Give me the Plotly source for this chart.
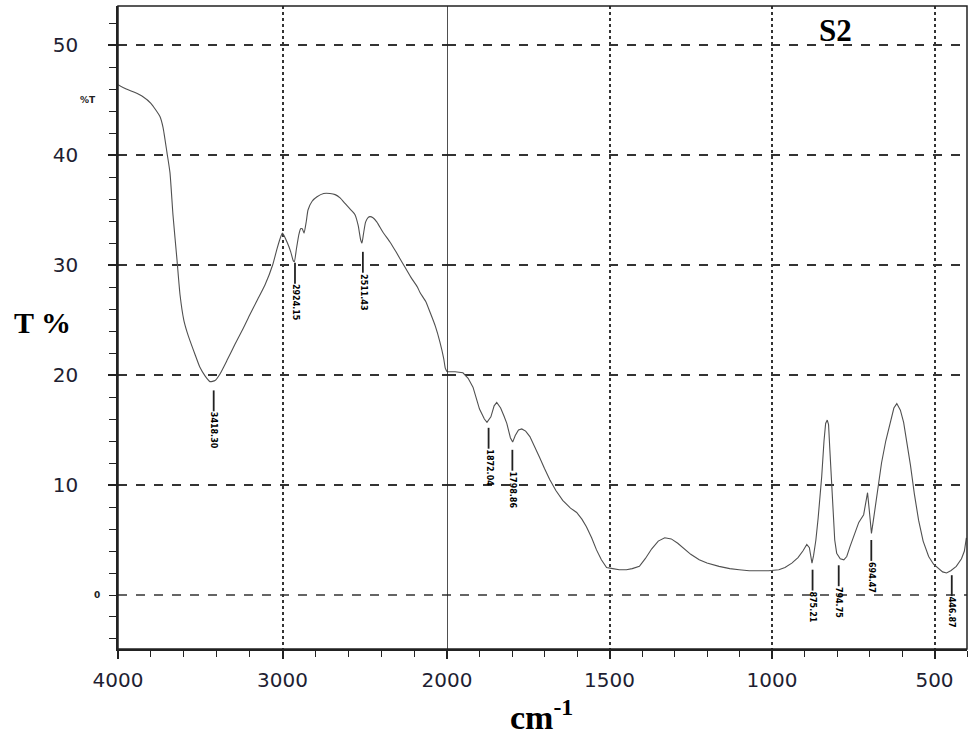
import plotly.graph_objects as go

# ---------------- data ----------------
wn_left = [4000, 3950, 3900, 3848, 3800, 3745, 3726, 3702, 3684, 3666, 3641, 3623, 3600, 3580,
           3562, 3530, 3502, 3470, 3441, 3410, 3380, 3335, 3289, 3240, 3198, 3150, 3106, 3060,
           3033, 3010, 3000, 2970, 2950, 2935, 2928, 2915, 2900, 2890, 2880, 2869, 2855, 2845,
           2820, 2790, 2750, 2711, 2680, 2650, 2620, 2590, 2560, 2540, 2525, 2517, 2508, 2495,
           2480, 2468, 2450, 2426, 2390, 2347, 2310, 2267, 2220, 2180, 2164, 2130, 2103, 2070,
           2043, 2020, 2010, 2000]
t_left = [46.4, 46.0, 45.7, 45.3, 44.7, 43.5, 42.5, 40.2, 38.4, 34.6, 30.4, 27.3, 25.0, 23.9,
          23.1, 21.8, 20.7, 19.9, 19.4, 19.5, 20.1, 21.4, 22.8, 24.2, 25.5, 26.9, 28.2, 30.0,
          31.5, 32.6, 32.9, 32.0, 31.2, 30.4, 30.3, 31.5, 32.8, 33.3, 33.3, 32.9, 34.0, 35.0,
          35.8, 36.2, 36.5, 36.5, 36.4, 36.1, 35.6, 35.1, 34.6, 33.6, 32.3, 32.0, 32.8, 33.9,
          34.3, 34.4, 34.3, 33.9, 33.0, 32.1, 31.2, 30.1, 28.9, 28.0, 27.5, 26.7, 25.7, 24.4,
          23.0, 21.5, 20.6, 20.3]

wn_right = [2000, 1975, 1951, 1935, 1920, 1900, 1885, 1877, 1865, 1855, 1847, 1835, 1825, 1816,
            1805, 1798, 1790, 1780, 1770, 1758, 1745, 1730, 1715, 1700, 1684, 1665, 1644, 1620,
            1601, 1585, 1571, 1555, 1540, 1525, 1509, 1490, 1470, 1448, 1430, 1408, 1390, 1370,
            1350, 1330, 1310, 1290, 1270, 1250, 1224, 1200, 1163, 1130, 1101, 1070, 1040, 1010,
            979, 960, 939, 920, 905, 893, 885, 880, 877, 872, 865, 858, 852, 847, 840, 835, 830,
            826, 822, 817, 812, 807, 801, 790, 779, 770, 760, 748, 733, 718, 712, 706, 700, 694,
            688, 681, 672, 663, 650, 635, 625, 616, 605, 595, 585, 574, 562, 549, 535, 518, 503,
            488, 475, 463, 450, 433, 417, 408, 402]
t_right = [20.3, 20.3, 20.2, 19.7, 18.9, 16.9, 16.0, 15.7, 16.2, 17.2, 17.5, 17.0, 16.3, 15.6,
           14.3, 13.9, 14.5, 15.0, 15.1, 14.9, 14.4, 13.5, 12.5, 11.5, 10.5, 9.5, 8.6, 7.9,
           7.5, 6.9, 6.2, 5.2, 4.1, 3.2, 2.5, 2.4, 2.3, 2.3, 2.4, 2.6, 3.3, 4.2,
           4.9, 5.2, 5.1, 4.7, 4.2, 3.7, 3.2, 2.9, 2.6, 2.4, 2.3, 2.2, 2.2, 2.2,
           2.3, 2.5, 2.9, 3.4, 4.0, 4.6, 4.3, 3.4, 2.9, 3.6, 5.0, 7.0, 9.0, 10.8, 14.0, 15.6, 15.9,
           15.5, 13.2, 10.0, 7.0, 5.0, 3.8, 3.3, 3.2, 3.5, 4.4, 5.3, 6.6, 7.3, 8.4, 9.3, 7.5, 5.6,
           6.8, 8.4, 10.3, 12.0, 14.0, 15.8, 17.0, 17.4, 16.8, 15.7, 14.0, 11.8, 9.2, 6.8, 4.9, 3.5, 2.8,
           2.4, 2.1, 2.0, 2.2, 2.6, 3.3, 4.0, 5.2]

peak_wn = [3418.30, 2924.15, 2511.43, 1872.04, 1798.86, 875.21, 794.75, 694.47, 446.87]
peak_labels = ["3418.30", "2924.15", "2511.43", "1872.04", "1798.86", "875.21", "794.75", "694.47", "446.87"]
peak_mark_top = [18.6, 30.2, 31.2, 15.2, 13.2, 2.3, 2.7, 5.0, 1.8]

y_ticks = [10, 20, 30, 40, 50]
x_left_ticks = [4000, 3000]
x_right_ticks = [2000, 1500, 1000, 500]

# ---------------- figure ----------------
split = 329 / 849
line_col = "#505050"
mark_len = 1.9  # length of the peak marker stems, in %T units
lab_size = 8


def label_len(s):
    # approximate rendered length (px) of a bold DejaVu Sans label
    return sum(3.0 if ch == "." else 0.696 * lab_size for ch in s)


fig = go.Figure()
fig.add_trace(go.Scatter(x=wn_left, y=t_left, xaxis="x", yaxis="y", mode="lines",
                         line=dict(color=line_col, width=1.1, shape="spline", smoothing=0.5),
                         showlegend=False, hoverinfo="skip"))
fig.add_trace(go.Scatter(x=wn_right, y=t_right, xaxis="x2", yaxis="y", mode="lines",
                         line=dict(color=line_col, width=1.1), showlegend=False, hoverinfo="skip"))

tickfont = dict(family="DejaVu Sans", size=20, color="#1e1e32")
grid_col = "#333333"

fig.update_layout(
    width=972, height=736,
    margin=dict(l=118, r=5, t=6, b=87, autoexpand=False),
    paper_bgcolor="white", plot_bgcolor="white",
    xaxis=dict(domain=[0, split], range=[4000, 2000], anchor="y", automargin=False,
               tickvals=x_left_ticks, ticks="outside", ticklen=8, tickwidth=1.5, tickcolor="#222",
               showgrid=True, gridcolor=grid_col, griddash="dot", gridwidth=1.5,
               showline=True, linecolor="#222", linewidth=1.5, zeroline=False,
               tickfont=tickfont, ticklabelstandoff=4,
               minor=dict(dtick=200, tick0=4000, ticks="outside", ticklen=6, tickcolor="#222",
                          tickwidth=1.3, showgrid=False)),
    xaxis2=dict(domain=[split, 1], range=[2000, 400], anchor="y", automargin=False,
                tickvals=x_right_ticks, ticks="outside", ticklen=8, tickwidth=1.5, tickcolor="#222",
                showgrid=True, gridcolor=grid_col, griddash="dot", gridwidth=1.5,
                showline=True, linecolor="#222", linewidth=1.5, zeroline=False,
                tickfont=tickfont, ticklabelstandoff=4,
                minor=dict(dtick=100, tick0=2000, ticks="outside", ticklen=6, tickcolor="#222",
                           tickwidth=1.3, showgrid=False)),
    yaxis=dict(range=[-4.91, 53.55], anchor="x", automargin=False,
               tickvals=y_ticks, ticks="outside", ticklen=8, tickwidth=1.5,
               tickcolor="#222",
               showgrid=True, gridcolor=grid_col, griddash="dash", gridwidth=1.5,
               showline=True, linecolor="#222", linewidth=1.5, zeroline=False,
               tickfont=tickfont, ticklabelstandoff=26,
               minor=dict(dtick=2, tick0=0, ticks="outside", ticklen=7, tickcolor="#222",
                          tickwidth=1.3, showgrid=False)),
)

# frame (top / right), the solid divider at 2000 and the dashed grid line at 0 %T
fig.add_shape(type="rect", xref="paper", yref="paper", x0=0, x1=1, y0=0, y1=1,
              line=dict(color="#222", width=1.5), layer="above")
fig.add_shape(type="line", xref="x2", yref="paper", x0=2000, x1=2000, y0=0, y1=1,
              line=dict(color="#222", width=1.6), layer="above")
fig.add_shape(type="line", xref="paper", yref="y", x0=0, x1=1, y0=0, y1=0,
              line=dict(color=grid_col, width=1.5, dash="dash"), layer="below")

# peak markers: a short stem below each band and the rotated wavenumber label under it
for wn, lab, ytop in zip(peak_wn, peak_labels, peak_mark_top):
    xr = "x" if wn > 2000 else "x2"
    fig.add_shape(type="line", xref=xr, yref="y", x0=wn, x1=wn, y0=ytop, y1=ytop - mark_len,
                  line=dict(color="#222", width=1.8), layer="above")
    fig.add_annotation(x=wn, y=ytop - mark_len, xref=xr, yref="y", text="<b>" + lab + "</b>",
                       textangle=90, xanchor="center", yanchor="middle", showarrow=False,
                       borderpad=0, yshift=-(label_len(lab) / 2 + 1),
                       font=dict(family="DejaVu Sans", size=lab_size, color="black"))

# text annotations
fig.add_annotation(xref="paper", yref="paper", x=(42 - 118) / 849, y=(649 - 322) / 643,
                   xanchor="center", yanchor="middle",
                   text="<b>T %</b>", showarrow=False,
                   font=dict(family="Liberation Serif", size=30, color="black"))
fig.add_annotation(xref="paper", yref="paper", x=(541 - 118) / 849, y=(649 - 715) / 643,
                   xanchor="center", yanchor="middle",
                   text="<b>cm<sup>-1</sup></b>", showarrow=False,
                   font=dict(family="Liberation Serif", size=34, color="black"))
fig.add_annotation(xref="paper", yref="paper", x=(835 - 118) / 849, y=(649 - 30) / 643,
                   xanchor="center", yanchor="middle",
                   text="<b>S2</b>", showarrow=False,
                   font=dict(family="Liberation Serif", size=31, color="black"))
fig.add_annotation(xref="paper", yref="paper", x=(88 - 118) / 849, y=(649 - 100) / 643,
                   xanchor="center", yanchor="middle",
                   text="<b>%T</b>", showarrow=False,
                   font=dict(family="DejaVu Sans", size=9, color="#222"))
fig.add_annotation(xref="paper", yref="y", x=(97 - 118) / 849, y=0,
                   xanchor="center", yanchor="middle",
                   text="<b>0</b>", showarrow=False,
                   font=dict(family="DejaVu Sans", size=9, color="#222"))

fig.write_html("out.html", config={"displayModeBar": False},
               post_script="document.body.style.margin='0';")
